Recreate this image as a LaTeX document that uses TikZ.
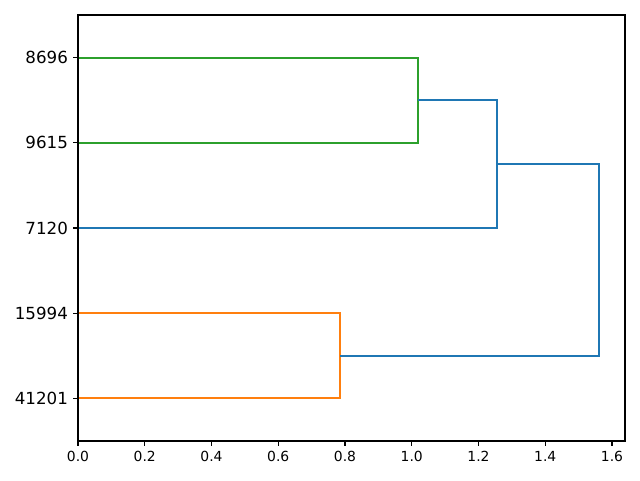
\documentclass[tikz,border=0pt]{standalone}
\usepackage{fontspec}
\setmainfont{DejaVu Sans}
\definecolor{cblue}{HTML}{1F77B4}
\definecolor{corange}{HTML}{FF7F0E}
\definecolor{cgreen}{HTML}{2CA02C}
\begin{document}
\begin{tikzpicture}[x=333.75pt,y=8.52pt,
  link/.style={line width=2.08pt,line cap=butt,line join=miter},
  spine/.style={line width=1.11pt,black},
  tick/.style={line width=1.11pt,black},
  ylab/.style={anchor=east,inner sep=0pt,font=\fontsize{16.67}{20}\selectfont},
  xlab/.style={anchor=north,inner sep=0pt,font=\fontsize{13.89}{16}\selectfont}]
\useasboundingbox[fill=white] (-78pt,-39pt) rectangle (562pt,441pt);
% leaves
\coordinate (l1) at (0,45);
\coordinate (l2) at (0,35);
\coordinate (l3) at (0,25);
\coordinate (l4) at (0,15);
\coordinate (l5) at (0,5);
% merges
\coordinate (g1) at (1.0187,45);
\coordinate (g2) at (1.0187,35);
\coordinate (gm) at (1.0187,40);
\coordinate (b1) at (1.2554,40);
\coordinate (b2) at (1.2554,25);
\coordinate (bm) at (1.2554,32.5);
\coordinate (o1) at (0.785,15);
\coordinate (o2) at (0.785,5);
\coordinate (om) at (0.785,10);
\coordinate (r1) at (1.561,32.5);
\coordinate (r2) at (1.561,10);
\draw[link,cgreen] (l1) -- (g1) -- (g2) -- (l2);
\draw[link,corange] (l4) -- (o1) -- (o2) -- (l5);
\draw[link,cblue] (gm) -- (b1) -- (b2) -- (l3);
\draw[link,cblue] (bm) -- (r1) -- (r2) -- (om);
% axes frame
\draw[spine] (0,0) rectangle (1.639,50);
% y ticks and labels
\foreach \yy/\lab in {45/8696,35/9615,25/7120,15/15994,5/41201}{
  \draw[tick] (0,\yy) -- ++(-4.86pt,0);
  \node[ylab] (y\lab) at ([xshift=-9.9pt]0,\yy) {\lab};
}
% x ticks and labels
\foreach \xx/\lab in {0/0.0,0.2/0.2,0.4/0.4,0.6/0.6,0.8/0.8,1.0/1.0,1.2/1.2,1.4/1.4,1.6/1.6}{
  \draw[tick] (\xx,0) -- ++(0,-4.86pt);
  \node[xlab] (x\xx) at ([yshift=-9.9pt]\xx,0) {\lab};
}
\end{tikzpicture}
\end{document}
